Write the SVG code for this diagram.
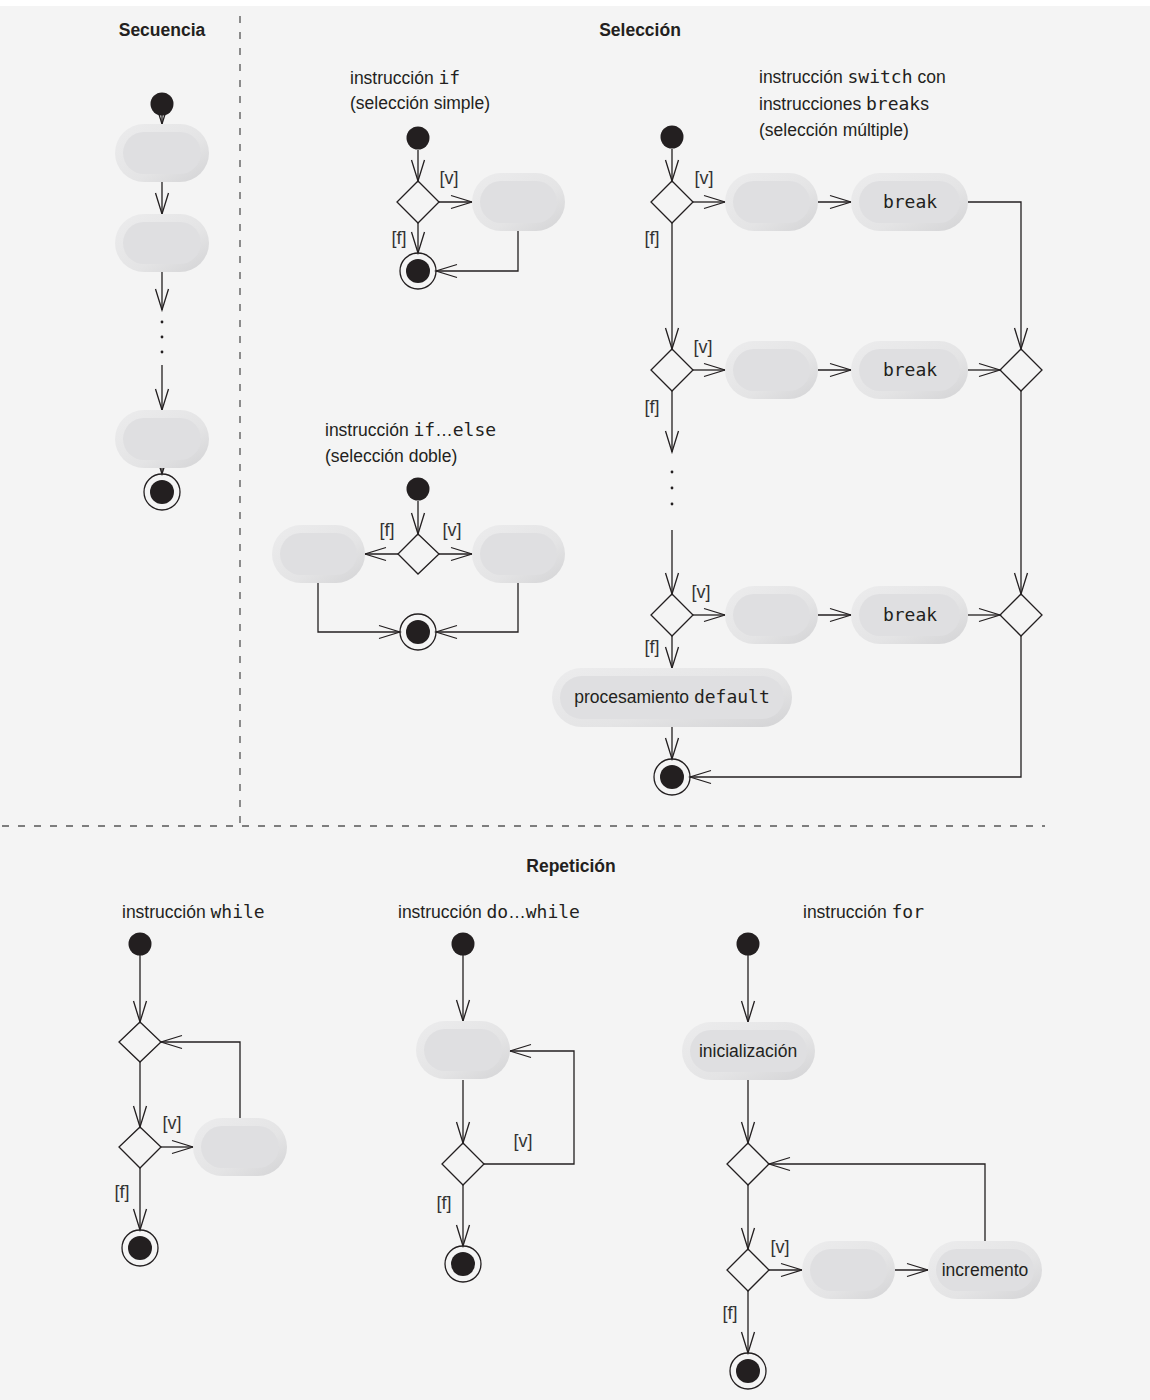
<svg xmlns="http://www.w3.org/2000/svg" width="1150" height="1400" viewBox="0 0 1150 1400">
<style>
.bg{fill:#f4f4f4}
.ln{fill:none;stroke:#231f20;stroke-width:1.3}
.ar{fill:none;stroke:#231f20;stroke-width:1.3;marker-end:url(#ah)}
.dash{fill:none;stroke:#555;stroke-width:1.3;stroke-dasharray:7 9}
.dot{fill:#231f20}
.fin{fill:none;stroke:#231f20;stroke-width:1.3}
.dia{fill:none;stroke:#231f20;stroke-width:1.3}
.co{fill:url(#capg)}
.ci{fill:#dfdfe1}
.t{font-family:"Liberation Sans",Arial,sans-serif;font-size:17.5px;fill:#231f20}
.b{font-family:"Liberation Sans",Arial,sans-serif;font-size:17.5px;font-weight:bold;fill:#231f20}
.lb{font-family:"Liberation Sans",Arial,sans-serif;font-size:18px;fill:#333;text-anchor:middle}
.m{font-family:"DejaVu Sans Mono","Liberation Mono",monospace;font-size:18px}
.ell{fill:#231f20}
</style>
<defs>
<linearGradient id="capg" x1="0" y1="0" x2="1" y2="1">
<stop offset="0" stop-color="#ececed"/>
<stop offset="0.6" stop-color="#e4e4e5"/>
<stop offset="1" stop-color="#d3d3d5"/>
</linearGradient>
<marker id="ah" markerUnits="userSpaceOnUse" markerWidth="24" markerHeight="16" viewBox="-22 -8 24 16" refX="0" refY="0" orient="auto">
<path d="M-21,-6.5 L0,0 L-21,6.5" fill="none" stroke="#231f20" stroke-width="1.3"/>
</marker>
</defs>
<rect x="0" y="0" width="1150" height="1400" fill="#ffffff"/>
<rect class="bg" x="0" y="6" width="1150" height="1394"/>
<g id="separators">
<line class="dash" x1="240" y1="16" x2="240" y2="826"/>
<line class="dash" x1="2" y1="826" x2="1045" y2="826"/>
</g>
<g id="titles">
<text class="b" x="162" y="36" text-anchor="middle">Secuencia</text>
<text class="b" x="640" y="36" text-anchor="middle">Selección</text>
<text class="b" x="571" y="872" text-anchor="middle">Repetición</text>
<text class="t" x="350" y="84">instrucción <tspan class="m">if</tspan></text>
<text class="t" x="350" y="109">(selección simple)</text>
<text class="t" x="759" y="83">instrucción <tspan class="m">switch</tspan> con</text>
<text class="t" x="759" y="110">instrucciones <tspan class="m">break</tspan>s</text>
<text class="t" x="759" y="136">(selección múltiple)</text>
<text class="t" x="325" y="436">instrucción <tspan class="m">if</tspan>…<tspan class="m">else</tspan></text>
<text class="t" x="325" y="462">(selección doble)</text>
<text class="t" x="122" y="918">instrucción <tspan class="m">while</tspan></text>
<text class="t" x="398" y="918">instrucción <tspan class="m">do</tspan>…<tspan class="m">while</tspan></text>
<text class="t" x="803" y="918">instrucción <tspan class="m">for</tspan></text>
</g>
<g id="connectors">
<line class="ar" x1="162" y1="115" x2="162" y2="124"/>
<line class="ar" x1="162" y1="182" x2="162" y2="214"/>
<line class="ar" x1="162" y1="272" x2="162" y2="310"/>
<line class="ar" x1="162" y1="365" x2="162" y2="410"/>
<line class="ar" x1="162" y1="468" x2="162" y2="474"/>
<line class="ar" x1="418" y1="150" x2="418" y2="181"/>
<line class="ar" x1="439" y1="202" x2="472" y2="202"/>
<line class="ar" x1="418" y1="223" x2="418" y2="253"/>
<path class="ar" d="M518,231 V271 H436"/>
<line class="ar" x1="672" y1="149" x2="672" y2="181"/>
<line class="ar" x1="693" y1="202" x2="725" y2="202"/>
<line class="ar" x1="818" y1="202" x2="851" y2="202"/>
<path class="ar" d="M968,202 H1021 V349"/>
<line class="ar" x1="672" y1="223" x2="672" y2="349"/>
<line class="ar" x1="693" y1="370" x2="725" y2="370"/>
<line class="ar" x1="818" y1="370" x2="851" y2="370"/>
<line class="ar" x1="968" y1="370" x2="1000" y2="370"/>
<line class="ar" x1="672" y1="391" x2="672" y2="452"/>
<line class="ar" x1="672" y1="530" x2="672" y2="594"/>
<line class="ar" x1="1021" y1="391" x2="1021" y2="594"/>
<line class="ar" x1="693" y1="615" x2="725" y2="615"/>
<line class="ar" x1="818" y1="615" x2="851" y2="615"/>
<line class="ar" x1="968" y1="615" x2="1000" y2="615"/>
<line class="ar" x1="672" y1="636" x2="672" y2="668"/>
<line class="ar" x1="672" y1="727" x2="672" y2="759"/>
<path class="ar" d="M1021,636 V777 H690"/>
<line class="ar" x1="418" y1="501" x2="418" y2="534"/>
<line class="ar" x1="398" y1="554" x2="365" y2="554"/>
<line class="ar" x1="439" y1="554" x2="472" y2="554"/>
<path class="ar" d="M318,583 V632 H400"/>
<path class="ar" d="M518,583 V632 H436"/>
<line class="ar" x1="140" y1="955" x2="140" y2="1022"/>
<line class="ar" x1="140" y1="1062" x2="140" y2="1127"/>
<line class="ar" x1="161" y1="1147" x2="193" y2="1147"/>
<path class="ar" d="M240,1118 V1042 H161"/>
<line class="ar" x1="140" y1="1168" x2="140" y2="1230"/>
<line class="ar" x1="463" y1="955" x2="463" y2="1021"/>
<line class="ar" x1="463" y1="1080" x2="463" y2="1143"/>
<path class="ar" d="M484,1164 H574 V1051 H510"/>
<line class="ar" x1="463" y1="1185" x2="463" y2="1246"/>
<line class="ar" x1="748" y1="955" x2="748" y2="1022"/>
<line class="ar" x1="748" y1="1080" x2="748" y2="1143"/>
<line class="ar" x1="748" y1="1185" x2="748" y2="1249"/>
<line class="ar" x1="769" y1="1270" x2="802" y2="1270"/>
<line class="ar" x1="895" y1="1270" x2="928" y2="1270"/>
<path class="ar" d="M985,1241 V1164 H769"/>
<line class="ar" x1="748" y1="1291" x2="748" y2="1353"/>
</g>
<g id="ellipses">
<circle class="ell" cx="162" cy="322" r="1.4"/><circle class="ell" cx="162" cy="337" r="1.4"/><circle class="ell" cx="162" cy="352" r="1.4"/>
<circle class="ell" cx="672" cy="472" r="1.4"/><circle class="ell" cx="672" cy="488" r="1.4"/><circle class="ell" cx="672" cy="504" r="1.4"/>
</g>
<g id="labels">
<text class="lb" x="449" y="184">[v]</text><text class="lb" x="399" y="244">[f]</text>
<text class="lb" x="704" y="184">[v]</text><text class="lb" x="652" y="244">[f]</text>
<text class="lb" x="703" y="353">[v]</text><text class="lb" x="652" y="413">[f]</text>
<text class="lb" x="701" y="598">[v]</text><text class="lb" x="652" y="653">[f]</text>
<text class="lb" x="387" y="536">[f]</text><text class="lb" x="452" y="536">[v]</text>
<text class="lb" x="172" y="1129">[v]</text><text class="lb" x="122" y="1198">[f]</text>
<text class="lb" x="523" y="1147">[v]</text><text class="lb" x="444" y="1209">[f]</text>
<text class="lb" x="780" y="1253">[v]</text><text class="lb" x="730" y="1319">[f]</text>
</g>
<g id="seq-start"><circle class="dot" cx="162" cy="104" r="11.5"/></g>
<g id="seq-a1"><rect class="co" x="115" y="124" width="94" height="58" rx="29"/><rect class="ci" x="123" y="132" width="78" height="42" rx="21"/></g>
<g id="seq-a2"><rect class="co" x="115" y="214" width="94" height="58" rx="29"/><rect class="ci" x="123" y="222" width="78" height="42" rx="21"/></g>
<g id="seq-a3"><rect class="co" x="115" y="410" width="94" height="58" rx="29"/><rect class="ci" x="123" y="418" width="78" height="42" rx="21"/></g>
<g id="seq-end"><circle class="fin" cx="162" cy="492" r="18"/><circle class="dot" cx="162" cy="492" r="12"/></g>
<g id="if-start"><circle class="dot" cx="418" cy="138" r="11.5"/></g>
<g id="if-dec"><polygon class="dia" points="418,181 439,202 418,223 397,202"/></g>
<g id="if-act"><rect class="co" x="472" y="173" width="93" height="58" rx="29"/><rect class="ci" x="480" y="181" width="77" height="42" rx="21"/></g>
<g id="if-end"><circle class="fin" cx="418" cy="271" r="18"/><circle class="dot" cx="418" cy="271" r="12"/></g>
<g id="sw-start"><circle class="dot" cx="672" cy="137" r="11.5"/></g>
<g id="sw-dec1"><polygon class="dia" points="672,181 693,202 672,223 651,202"/></g>
<g id="sw-act1"><rect class="co" x="725" y="173" width="93" height="58" rx="29"/><rect class="ci" x="733" y="181" width="77" height="42" rx="21"/></g>
<g id="sw-brk1"><rect class="co" x="851" y="173" width="117" height="58" rx="29"/><rect class="ci" x="859" y="181" width="101" height="42" rx="21"/><text class="t m" x="910" y="208" text-anchor="middle">break</text></g>
<g id="sw-dec2"><polygon class="dia" points="672,349 693,370 672,391 651,370"/></g>
<g id="sw-act2"><rect class="co" x="725" y="341" width="93" height="58" rx="29"/><rect class="ci" x="733" y="349" width="77" height="42" rx="21"/></g>
<g id="sw-brk2"><rect class="co" x="851" y="341" width="117" height="58" rx="29"/><rect class="ci" x="859" y="349" width="101" height="42" rx="21"/><text class="t m" x="910" y="376" text-anchor="middle">break</text></g>
<g id="sw-merge2"><polygon class="dia" points="1021,349 1042,370 1021,391 1000,370"/></g>
<g id="sw-dec3"><polygon class="dia" points="672,594 693,615 672,636 651,615"/></g>
<g id="sw-act3"><rect class="co" x="725" y="586" width="93" height="58" rx="29"/><rect class="ci" x="733" y="594" width="77" height="42" rx="21"/></g>
<g id="sw-brk3"><rect class="co" x="851" y="586" width="117" height="58" rx="29"/><rect class="ci" x="859" y="594" width="101" height="42" rx="21"/><text class="t m" x="910" y="621" text-anchor="middle">break</text></g>
<g id="sw-merge3"><polygon class="dia" points="1021,594 1042,615 1021,636 1000,615"/></g>
<g id="sw-default"><rect class="co" x="552" y="668" width="240" height="59" rx="29.5"/><rect class="ci" x="560" y="676" width="224" height="43" rx="21.5"/><text class="t" x="672" y="703" text-anchor="middle">procesamiento <tspan class="m">default</tspan></text></g>
<g id="sw-end"><circle class="fin" cx="672" cy="777" r="18"/><circle class="dot" cx="672" cy="777" r="12"/></g>
<g id="ie-start"><circle class="dot" cx="418" cy="489" r="11.5"/></g>
<g id="ie-dec"><polygon class="dia" points="418,534 439,554 418,574 398,554"/></g>
<g id="ie-actf"><rect class="co" x="272" y="525" width="93" height="58" rx="29"/><rect class="ci" x="280" y="533" width="77" height="42" rx="21"/></g>
<g id="ie-actv"><rect class="co" x="472" y="525" width="93" height="58" rx="29"/><rect class="ci" x="480" y="533" width="77" height="42" rx="21"/></g>
<g id="ie-end"><circle class="fin" cx="418" cy="632" r="18"/><circle class="dot" cx="418" cy="632" r="12"/></g>
<g id="wh-start"><circle class="dot" cx="140" cy="944" r="11.5"/></g>
<g id="wh-merge"><polygon class="dia" points="140,1022 161,1042 140,1062 119,1042"/></g>
<g id="wh-dec"><polygon class="dia" points="140,1127 161,1147 140,1168 119,1147"/></g>
<g id="wh-act"><rect class="co" x="193" y="1118" width="94" height="58" rx="29"/><rect class="ci" x="201" y="1126" width="78" height="42" rx="21"/></g>
<g id="wh-end"><circle class="fin" cx="140" cy="1248" r="18"/><circle class="dot" cx="140" cy="1248" r="12"/></g>
<g id="dw-start"><circle class="dot" cx="463" cy="944" r="11.5"/></g>
<g id="dw-act"><rect class="co" x="416" y="1021" width="94" height="58" rx="29"/><rect class="ci" x="424" y="1029" width="78" height="42" rx="21"/></g>
<g id="dw-dec"><polygon class="dia" points="463,1143 484,1164 463,1185 442,1164"/></g>
<g id="dw-end"><circle class="fin" cx="463" cy="1264" r="18"/><circle class="dot" cx="463" cy="1264" r="12"/></g>
<g id="for-start"><circle class="dot" cx="748" cy="944" r="11.5"/></g>
<g id="for-init"><rect class="co" x="682" y="1022" width="133" height="58" rx="29"/><rect class="ci" x="690" y="1030" width="117" height="42" rx="21"/><text class="t" x="748" y="1057" text-anchor="middle">inicialización</text></g>
<g id="for-merge"><polygon class="dia" points="748,1143 769,1164 748,1185 727,1164"/></g>
<g id="for-dec"><polygon class="dia" points="748,1249 769,1270 748,1291 727,1270"/></g>
<g id="for-act"><rect class="co" x="802" y="1241" width="93" height="58" rx="29"/><rect class="ci" x="810" y="1249" width="77" height="42" rx="21"/></g>
<g id="for-inc"><rect class="co" x="928" y="1241" width="114" height="58" rx="29"/><rect class="ci" x="936" y="1249" width="98" height="42" rx="21"/><text class="t" x="985" y="1276" text-anchor="middle">incremento</text></g>
<g id="for-end"><circle class="fin" cx="748" cy="1371" r="18"/><circle class="dot" cx="748" cy="1371" r="12"/></g>
</svg>
